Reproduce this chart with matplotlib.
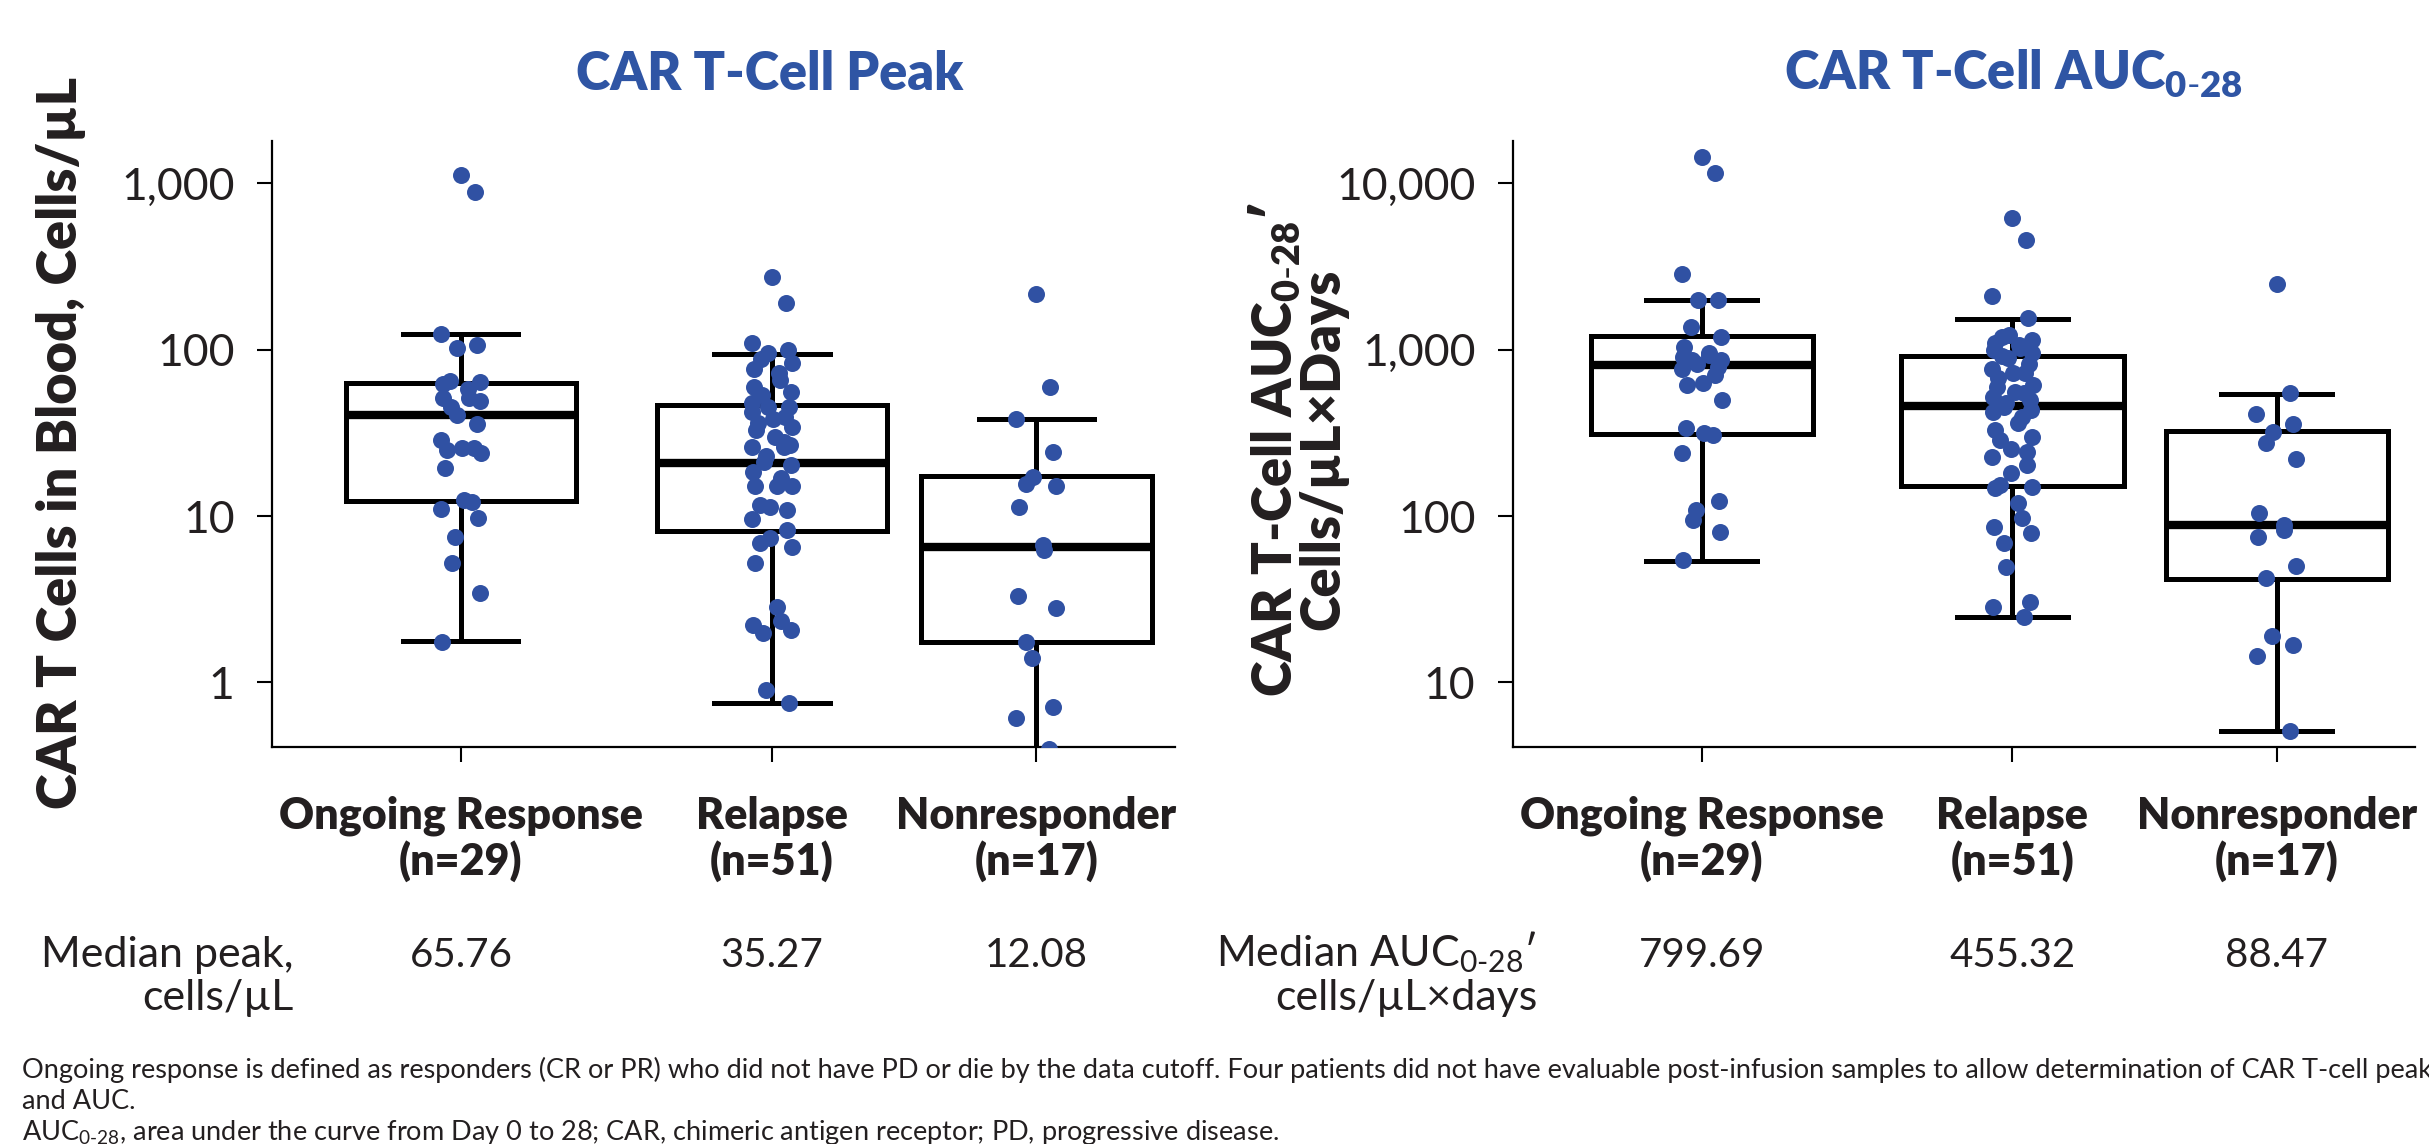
import numpy as np
import matplotlib.pyplot as plt
from matplotlib.ticker import NullLocator
from matplotlib.transforms import blended_transform_factory

plt.rcParams['font.family'] = ['Lato', 'DejaVu Sans']
plt.rcParams['mathtext.fontset'] = 'custom'
plt.rcParams['mathtext.rm'] = 'Lato'
plt.rcParams['mathtext.bf'] = 'Lato:heavy'
plt.rcParams['mathtext.it'] = 'Lato:italic'

# categories
groups = ['Ongoing Response', 'Relapse', 'Nonresponder']
group_n = [29, 51, 17]
group_pos = [0, 1, 1.85]

# CAR T-cell peak (cells/uL)
peak_ongoing = [1120, 889, 125, 106, 103, 65, 64, 62, 58, 51.5, 51, 49.3, 45, 40.4, 35.7,
                28.6, 25.7, 25.5, 25, 24, 19.4, 12.5, 12.2, 11.0, 9.77, 7.5, 5.2, 3.43, 1.76]
peak_relapse = [274, 191, 110, 100, 95, 88, 82.7, 77, 72, 65.7, 60, 55.8, 53.3, 45.4, 45,
                42, 39.5, 38.1, 36, 34.4, 32.9, 30, 26.1, 26.1, 26.7, 23, 21.2, 20.3, 18.5,
                17, 15.1, 15.1, 15.1, 11.6, 11.4, 10.8, 9.55, 8.3, 7.34, 6.85, 6.49, 5.24,
                2.85, 2.35, 2.21, 2.06, 1.97, 0.90, 0.755, 48, 28]
peak_nonresp = [216, 59.4, 38.1, 24.4, 17.2, 15.6, 15.1, 11.3, 6.69, 6.25, 3.31, 2.81,
                1.76, 1.4, 0.71, 0.61, 0.40]
# box statistics drawn in the chart
peak_q1 = [12.3, 8.17, 1.75]
peak_med = [40.3, 20.8, 6.54]
peak_q3 = [63.2, 46.6, 17.3]
peak_lo = [1.77, 0.755, 0.397]
peak_hi = [124.6, 94, 38.2]
peak_median_txt = ['65.76', '35.27', '12.08']

# CAR T-cell AUC0-28 (cells/uL x days)
auc_ongoing = [14430, 11460, 2845, 1986, 1986, 1374, 1195, 1040, 950, 928, 900, 865, 865,
               820, 784, 760, 700, 627, 613, 498, 337, 314, 307, 238, 123, 109, 94.6, 80.5, 54.4]
auc_relapse = [6150, 4560, 2099, 1542, 1224, 1196, 1150, 1100, 1066, 1020, 995, 950, 920,
               887, 820, 760, 721, 721, 680, 613, 598, 560, 546, 520, 498, 476, 454, 433,
               420, 395, 361, 330, 300, 286, 252, 244, 227, 203, 182, 153.5, 150, 147, 120,
               96.8, 86.3, 79.4, 69.2, 49.5, 30.5, 28.5, 24.6]
auc_nonresp = [2478, 546, 410, 357, 321, 274, 220, 104, 88.3, 82.4, 75.1, 50.1, 42.3,
               19.0, 16.8, 14.4, 5.13]
auc_q1 = [309.6, 152.5, 42]
auc_med = [804, 457, 87.8]
auc_q3 = [1202, 922, 322.9]
auc_lo = [54, 24.6, 5.1]
auc_hi = [1990, 1528, 541]
auc_median_txt = ['799.69', '455.32', '88.47']

dot_color = '#3051A3'
title_color = '#2F55A4'
ink = '#231F20'

fig = plt.figure(figsize=(24.29, 11.44), dpi=100)
ax1 = fig.add_axes([0.1120, 0.3470, 0.3717, 0.5297])
ax2 = fig.add_axes([0.6229, 0.3470, 0.3713, 0.5297])


def draw_panel(ax, points, q1, med, q3, lo, hi, width, ylim, yticks, yticklabels):
    stats = []
    for a, b, c, d, e in zip(q1, med, q3, lo, hi):
        stats.append(dict(q1=a, med=b, q3=c, whislo=d, whishi=e, fliers=[]))
    ax.bxp(stats, positions=group_pos, widths=width, capwidths=width * 0.5,
           showfliers=False, patch_artist=True,
           boxprops=dict(facecolor='white', edgecolor='black', linewidth=3.6),
           medianprops=dict(color='black', linewidth=6, solid_capstyle='butt'),
           whiskerprops=dict(color='black', linewidth=3.6),
           capprops=dict(color='black', linewidth=3.6))
    for pos, vals in zip(group_pos, points):
        vals = np.array(vals)
        k = np.arange(len(vals))
        xoff = 0.065 * np.sin(k * 2.39996)
        ax.scatter(pos + xoff, vals, s=150, color=dot_color, linewidths=0, zorder=3)
    ax.set_yscale('log')
    ax.set_ylim(*ylim)
    ax.set_xlim(-0.607, 2.295)
    ax.set_yticks(yticks)
    ax.set_yticklabels(yticklabels)
    ax.yaxis.set_minor_locator(NullLocator())
    ax.set_xticks(group_pos)
    ax.set_xticklabels([])
    ax.tick_params(axis='both', length=11, width=1.5, color='black', direction='out')
    ax.tick_params(axis='y', labelsize=32, labelcolor=ink, pad=16)
    for s in ['top', 'right']:
        ax.spines[s].set_visible(False)
    for s in ['left', 'bottom']:
        ax.spines[s].set_linewidth(1.6)


draw_panel(ax1, [peak_ongoing, peak_relapse, peak_nonresp], peak_q1, peak_med, peak_q3,
           peak_lo, peak_hi, 0.74, (0.409, 1794), [1, 10, 100, 1000], ['1', '10', '100', '1,000'])
draw_panel(ax2, [auc_ongoing, auc_relapse, auc_nonresp], auc_q1, auc_med, auc_q3,
           auc_lo, auc_hi, 0.715, (4.09, 17940), [10, 100, 1000, 10000],
           ['10', '100', '1,000', '10,000'])

# category labels and medians under each panel
for ax, medtxt in [(ax1, peak_median_txt), (ax2, auc_median_txt)]:
    tr = blended_transform_factory(ax.transData, fig.transFigure)
    for pos, g, n, m in zip(group_pos, groups, group_n, medtxt):
        ax.text(pos, 0.2755, g, transform=tr, ha='center', va='baseline', size=31,
                weight='heavy', color=ink)
        ax.text(pos, 0.235, f'(n={n})', transform=tr, ha='center', va='baseline', size=31,
                weight='heavy', color=ink)
        ax.text(pos, 0.1549, m, transform=tr, ha='center', va='baseline', size=29, color=ink)

fig.text(0.121, 0.1549, 'Median peak,', ha='right', va='baseline', size=31, color=ink)
fig.text(0.121, 0.1171, 'cells/µL', ha='right', va='baseline', size=31, color=ink)
fig.text(0.6328, 0.1549, r'Median AUC$_{\mathrm{0\text{-}28}}$′', ha='right', va='baseline',
         size=31, color=ink)
fig.text(0.6328, 0.1171, 'cells/µL×days', ha='right', va='baseline', size=31, color=ink)

# titles
fig.text(0.317, 0.9213, 'CAR T-Cell Peak', ha='center', va='baseline', size=37.5,
         weight='heavy', color=title_color)
fig.text(0.8288, 0.9213, r'CAR T-Cell AUC$_{\mathbf{0\text{-}28}}$', ha='center',
         va='baseline', size=37.5, weight='heavy', color=title_color)

# y labels
fig.text(0.025, 0.613, 'CAR T Cells in Blood, Cells/µL', rotation=90, ha='center',
         va='center', size=39, weight='heavy', color=ink)
fig.text(0.525, 0.607, r'CAR T-Cell AUC$_{\mathbf{0\text{-}28}}$′', rotation=90,
         ha='center', va='center', size=39, weight='heavy', color=ink)
fig.text(0.545, 0.607, 'Cells/µL×Days', rotation=90, ha='center', va='center', size=39,
         weight='heavy', color=ink)

# footnotes
fig.text(0.009, 0.0577, 'Ongoing response is defined as responders (CR or PR) who did not have '
         'PD or die by the data cutoff. Four patients did not have evaluable post-infusion '
         'samples to allow determination of CAR T-cell peak', ha='left', va='baseline',
         size=19.5, color=ink)
fig.text(0.009, 0.0306, 'and AUC.', ha='left', va='baseline', size=19.5, color=ink)
fig.text(0.009, 0.0035, r'AUC$_{\mathrm{0\text{-}28}}$, area under the curve from Day 0 to 28; '
         'CAR, chimeric antigen receptor; PD, progressive disease.', ha='left',
         va='baseline', size=19.5, color=ink)

fig.savefig('out.png', dpi=100)
